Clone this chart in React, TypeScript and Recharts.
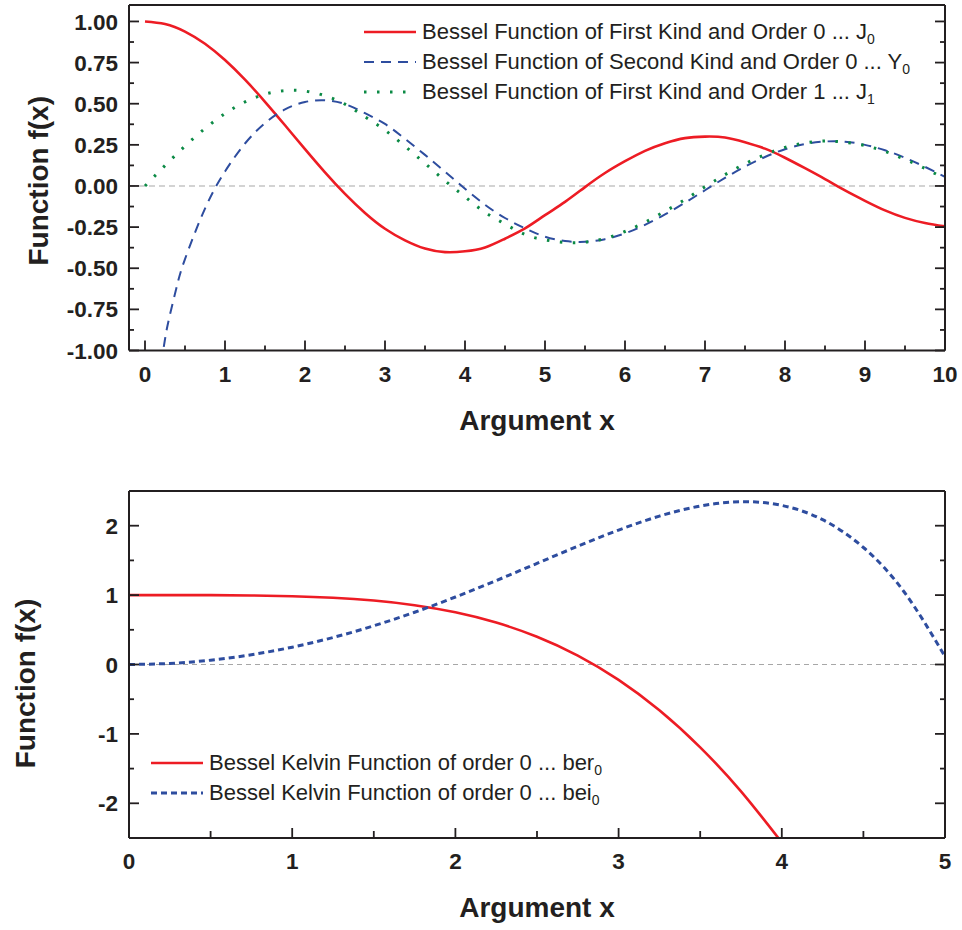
import React from 'react';
import { LineChart, Line, XAxis, YAxis, ReferenceLine, Legend, Label } from 'recharts';

const FONT = '"Liberation Sans", Arial, Helvetica, sans-serif';
const INK = '#231f20';

// ---------- Top chart data (Bessel functions) ----------
const xJ = [0, 0.25, 0.5, 0.75, 1, 1.25, 1.5, 1.75, 2, 2.25, 2.5, 2.75, 3, 3.25, 3.5, 3.75, 4, 4.25, 4.5, 4.75, 5,
  5.25, 5.5, 5.75, 6, 6.25, 6.5, 6.75, 7, 7.25, 7.5, 7.75, 8, 8.25, 8.5, 8.75, 9, 9.25, 9.5, 9.75, 10];
const j0Values = [1, 0.9844, 0.9385, 0.8642, 0.7652, 0.6459, 0.5118, 0.369, 0.2239, 0.0827, -0.0484, -0.1641, -0.2601,
  -0.3302, -0.3801, -0.4018, -0.3971, -0.3738, -0.3205, -0.258, -0.1776, -0.0968, -0.0068, 0.0788, 0.1506, 0.2137,
  0.2601, 0.291, 0.3001, 0.2951, 0.2663, 0.227, 0.1717, 0.1081, 0.0419, -0.0272, -0.0903, -0.1486, -0.1939, -0.2253, -0.2459];
const j1Values = [0, 0.124, 0.2423, 0.3492, 0.4401, 0.5106, 0.5579, 0.5802, 0.5767, 0.5484, 0.4971, 0.4204, 0.3391,
  0.2411, 0.1374, 0.0321, -0.066, -0.1597, -0.2311, -0.2951, -0.3276, -0.3432, -0.3414, -0.3189, -0.2767, -0.2203,
  -0.1538, -0.0826, -0.0047, 0.0685, 0.1352, 0.1903, 0.2346, 0.2619, 0.2731, 0.2653, 0.2453, 0.2101, 0.1613, 0.1069, 0.0435];
const xY = [0.2, 0.25, 0.3, 0.4, 0.5, 0.75, 1, 1.25, 1.5, 1.75, 2, 2.25, 2.5, 2.75, 3, 3.25, 3.5, 3.75, 4, 4.25, 4.5,
  4.75, 5, 5.25, 5.5, 5.75, 6, 6.25, 6.5, 6.75, 7, 7.25, 7.5, 7.75, 8, 8.25, 8.5, 8.75, 9, 9.25, 9.5, 9.75, 10];
const y0Values = [-1.0811, -0.9316, -0.8073, -0.606, -0.4445, -0.1372, 0.0883, 0.2582, 0.3824, 0.4654, 0.5104, 0.5208,
  0.4981, 0.4422, 0.3769, 0.2865, 0.189, 0.0868, -0.0169, -0.114, -0.1947, -0.2575, -0.3085, -0.3346, -0.3395, -0.3233,
  -0.2882, -0.2365, -0.1732, -0.1017, -0.0259, 0.0491, 0.1173, 0.176, 0.2235, 0.2547, 0.2702, 0.2693, 0.2499, 0.2171,
  0.1712, 0.1162, 0.0557];

const topXTicks = [0, 0.5, 1, 1.5, 2, 2.5, 3, 3.5, 4, 4.5, 5, 5.5, 6, 6.5, 7, 7.5, 8, 8.5, 9, 9.5, 10];
const topYTicks = [-1, -0.875, -0.75, -0.625, -0.5, -0.375, -0.25, -0.125, 0, 0.125, 0.25, 0.375, 0.5, 0.625, 0.75, 0.875, 1];

// ---------- Bottom chart data (Kelvin functions) ----------
const xK = [0, 0.25, 0.5, 0.75, 1, 1.25, 1.5, 1.75, 2, 2.25, 2.5, 2.75, 3, 3.25, 3.5, 3.75, 4, 4.25, 4.5, 4.75, 5];
const berValues = [1, 0.99994, 0.99902, 0.99506, 0.98438, 0.96187, 0.92107, 0.85405, 0.75173, 0.604, 0.39997, 0.12851,
  -0.22138, -0.65947, -1.19361, -1.82832, -2.56342];
const beiValues = [0, 0.01562, 0.06207, 0.14055, 0.24957, 0.38897, 0.55756, 0.75316, 0.97229, 1.20954, 1.45718, 1.70459,
  1.93759, 2.13804, 2.28306, 2.34569, 2.29269, 2.0868, 1.68602, 1.04489, 0.11603];

const botXTicks = [0, 0.5, 1, 1.5, 2, 2.5, 3, 3.5, 4, 4.5, 5];
const botYTicks = [-2, -1.5, -1, -0.5, 0, 0.5, 1, 1.5, 2];

const zip = (xs: number[], ys: number[]) => ys.map((v, i) => ({ x: xs[i], y: v }));

const topSeries = [
  { key: 'j0', name: 'Bessel Function of First Kind and Order 0 ... J', sub: '0', color: '#ed1c24', width: 2.6, dash: undefined as string | undefined, data: zip(xJ, j0Values) },
  { key: 'y0', name: 'Bessel Function of Second Kind and Order 0 ... Y', sub: '0', color: '#2e4d9f', width: 2, dash: '10 7', data: zip(xY, y0Values) },
  { key: 'j1', name: 'Bessel Function of First Kind and Order 1 ... J', sub: '1', color: '#0b8a45', width: 3, dash: '2.5 10.5', data: zip(xJ, j1Values) },
];
const botSeries = [
  { key: 'ber', name: 'Bessel Kelvin Function of order 0 ... ber', sub: '0', color: '#ed1c24', width: 2.6, dash: undefined as string | undefined, data: zip(xK, berValues) },
  { key: 'bei', name: 'Bessel Kelvin Function of order 0 ... bei', sub: '0', color: '#2e4d9f', width: 3, dash: '6 4', data: zip(xK, beiValues) },
];

type Side = 'bottom' | 'top' | 'left' | 'right';
function makeTick(side: Side, step: number, fmt: ((v: number) => string) | null, majorLen = 10, minorLen = 5) {
  return (props: any) => {
    const { x, y, payload } = props;
    const v = Number(payload.value);
    const r = v / step;
    const major = Math.abs(r - Math.round(r)) < 1e-6;
    const len = major ? majorLen : minorLen;
    let x2 = x, y2 = y;
    if (side === 'bottom') y2 = y - len;
    if (side === 'top') y2 = y + len;
    if (side === 'left') x2 = x + len;
    if (side === 'right') x2 = x - len;
    return (
      <g>
        <line x1={x} y1={y} x2={x2} y2={y2} stroke={INK} strokeWidth={1.8} />
        {major && fmt && side === 'bottom' && (
          <text x={x} y={y + 31} textAnchor="middle" fontFamily={FONT} fontWeight="bold" fontSize={22.5} fill={INK}>{fmt(v)}</text>
        )}
        {major && fmt && side === 'left' && (
          <text x={x - 11} y={y} dy="0.36em" textAnchor="end" fontFamily={FONT} fontWeight="bold" fontSize={22.5} fill={INK}>{fmt(v)}</text>
        )}
      </g>
    );
  };
}

const yTitle = (dx: number, dyShift: number) => (props: any) => {
  const vb = props.viewBox || {};
  const cx = vb.x - dx;
  const cy = vb.y + vb.height / 2 + dyShift;
  return (
    <text x={cx} y={cy} transform={`rotate(-90, ${cx}, ${cy})`} textAnchor="middle" fontFamily={FONT} fontWeight="bold" fontSize={28} fill={INK}>
      Function f(x)
    </text>
  );
};

const xTitle = (dy: number) => (props: any) => {
  const vb = props.viewBox || {};
  const cx = vb.x + vb.width / 2;
  const cy = vb.y + dy;
  return (
    <text x={cx} y={cy} textAnchor="middle" fontFamily={FONT} fontWeight="bold" fontSize={28} fill={INK}>
      Argument x
    </text>
  );
};

const makeLegend = (series: typeof topSeries, rowH: number, sampleW: number, fontSize: number, subSize: number) => () => (
  <div style={{ fontFamily: FONT, fontSize, color: INK, whiteSpace: 'nowrap' }}>
    {series.map((s) => (
      <div key={s.key} style={{ display: 'flex', alignItems: 'center', height: rowH }}>
        <svg width={sampleW} height={8} style={{ marginRight: 6, flex: 'none' }}>
          <line x1={0} y1={4} x2={sampleW} y2={4} stroke={s.color} strokeWidth={s.width} strokeDasharray={s.dash} />
        </svg>
        <span style={{ lineHeight: `${fontSize + 2}px` }}>
          {s.name}
          <sub style={{ fontSize: subSize, verticalAlign: '-5px', lineHeight: 0 }}>{s.sub}</sub>
        </span>
      </div>
    ))}
  </div>
);

const fmt2 = (v: number) => v.toFixed(2);
const fmt0 = (v: number) => String(Math.round(v));

export default function App() {
  return (
    <div style={{ position: 'absolute', left: 0, top: 0, width: 962, height: 930, background: '#fff' }}>
      <div style={{ position: 'absolute', left: 0, top: 0 }}>
        <LineChart width={962} height={460} margin={{ top: 4, right: 16, bottom: 108.5, left: 128 }}>
          <XAxis dataKey="x" type="number" domain={[-0.2, 10]} allowDataOverflow ticks={topXTicks} interval={0}
            height={1} tickSize={0} tickMargin={0} tickLine={false} axisLine={{ stroke: INK, strokeWidth: 2 }}
            tick={makeTick('bottom', 1, fmt0)}>
            <Label content={xTitle(79.5)} />
          </XAxis>
          <XAxis xAxisId="top" orientation="top" type="number" domain={[-0.2, 10]} allowDataOverflow ticks={topXTicks} interval={0}
            height={1} tickSize={0} tickMargin={0} tickLine={false} axisLine={{ stroke: INK, strokeWidth: 2 }}
            tick={makeTick('top', 1, null)} />
          <YAxis type="number" domain={[-1, 1.1]} allowDataOverflow ticks={topYTicks} interval={0}
            width={1} tickSize={0} tickMargin={0} tickLine={false} axisLine={{ stroke: INK, strokeWidth: 2 }}
            tick={makeTick('left', 0.25, fmt2)}>
            <Label content={yTitle(80, 3)} />
          </YAxis>
          <YAxis yAxisId="right" orientation="right" type="number" domain={[-1, 1.1]} allowDataOverflow ticks={topYTicks} interval={0}
            width={1} tickSize={0} tickMargin={0} tickLine={false} axisLine={{ stroke: INK, strokeWidth: 2 }}
            tick={makeTick('right', 0.25, null)} />
          <ReferenceLine y={0} stroke="#a7a7a7" strokeWidth={1.2} strokeDasharray="6 4" />
          {topSeries.map((s) => (
            <Line key={s.key} data={s.data} dataKey="y" name={s.name} type="natural" stroke={s.color}
              strokeWidth={s.width} strokeDasharray={s.dash} dot={false} activeDot={false} isAnimationActive={false} />
          ))}
          <Legend layout="vertical" align="center" verticalAlign="middle" content={makeLegend(topSeries, 30, 52, 22, 14)}
            wrapperStyle={{ left: 364, top: 17, width: 'auto', height: 'auto' }} />
        </LineChart>
      </div>
      <div style={{ position: 'absolute', left: 0, top: 460 }}>
        <LineChart width={962} height={470} margin={{ top: 30, right: 16, bottom: 91, left: 128 }}>
          <XAxis dataKey="x" type="number" domain={[0, 5]} allowDataOverflow ticks={botXTicks} interval={0}
            height={1} tickSize={0} tickMargin={0} tickLine={false} axisLine={{ stroke: INK, strokeWidth: 2 }}
            tick={makeTick('bottom', 1, fmt0, 10, 7)}>
            <Label content={xTitle(79)} />
          </XAxis>
          <XAxis xAxisId="top" orientation="top" type="number" domain={[0, 5]} allowDataOverflow ticks={botXTicks} interval={0}
            height={1} tickSize={0} tickMargin={0} tickLine={false} axisLine={{ stroke: INK, strokeWidth: 2 }}
            tick={makeTick('top', 1, null, 10, 9)} />
          <YAxis type="number" domain={[-2.5, 2.5]} allowDataOverflow ticks={botYTicks} interval={0}
            width={1} tickSize={0} tickMargin={0} tickLine={false} axisLine={{ stroke: INK, strokeWidth: 2 }}
            tick={makeTick('left', 1, fmt0)}>
            <Label content={yTitle(93, 19)} />
          </YAxis>
          <YAxis yAxisId="right" orientation="right" type="number" domain={[-2.5, 2.5]} allowDataOverflow ticks={botYTicks} interval={0}
            width={1} tickSize={0} tickMargin={0} tickLine={false} axisLine={{ stroke: INK, strokeWidth: 2 }}
            tick={makeTick('right', 1, null)} />
          <ReferenceLine y={0} stroke="#a7a7a7" strokeWidth={1.2} strokeDasharray="5 4" />
          {botSeries.map((s) => (
            <Line key={s.key} data={s.data} dataKey="y" name={s.name} type="natural" stroke={s.color}
              strokeWidth={s.width} strokeDasharray={s.dash} dot={false} activeDot={false} isAnimationActive={false} />
          ))}
          <Legend layout="vertical" align="center" verticalAlign="middle" content={makeLegend(botSeries, 30, 52, 22, 14)}
            wrapperStyle={{ left: 151, top: 288, width: 'auto', height: 'auto' }} />
        </LineChart>
      </div>
    </div>
  );
}
